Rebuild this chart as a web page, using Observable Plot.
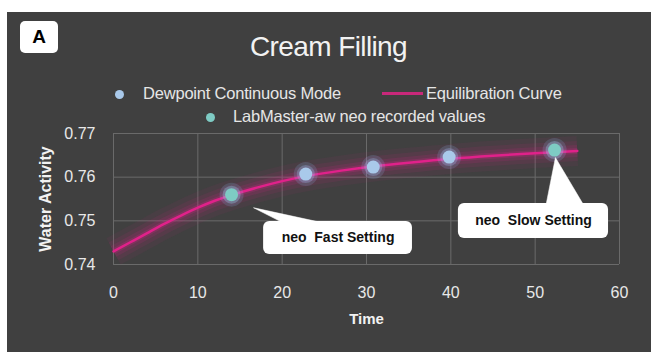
<!DOCTYPE html>
<html>
<head>
<meta charset="utf-8">
<script src="https://cdn.jsdelivr.net/npm/d3@7"></script>
<script src="https://cdn.jsdelivr.net/npm/@observablehq/plot@0.6"></script>
<style>
  html, body { margin: 0; padding: 0; background: #ffffff; }
  #wrap { position: relative; width: 657px; height: 363px; overflow: hidden; font-family: "Liberation Sans", Arial, sans-serif; }
  #panel { position: absolute; left: 7px; top: 12px; width: 644px; height: 340px; background: #404040; }
  #chart { position: absolute; left: 0; top: 0; }
  #badge { position: absolute; left: 20px; top: 21px; width: 38px; height: 32px; background: #ffffff; border-radius: 5px;
           font: bold 19px "Liberation Sans", Arial, sans-serif; color: #000; text-align: center; line-height: 32px; }
  #title { position: absolute; left: 0; width: 657px; top: 31px; text-align: center; color: #f2f2f2;
           font: 28px "Liberation Sans", Arial, sans-serif; letter-spacing: -0.6px; line-height: 32px; }
  .leg { position: absolute; color: #e6e6e6; font: 16.5px "Liberation Sans", Arial, sans-serif; white-space: nowrap; line-height: 20px; letter-spacing: -0.2px; }
  .dot { position: absolute; width: 9px; height: 9px; border-radius: 50%; }
  .swatch { position: absolute; height: 3px; background: #c8287a; }
</style>
</head>
<body>
<div id="wrap">
  <div id="panel"></div>
  <div id="badge">A</div>
  <div id="title">Cream Filling</div>
  <div id="legend"></div>
  <div id="chart"></div>
</div>
<script>
// ---- data ----
const curveTimes  = [0, 2, 4, 6, 8, 10, 12, 14, 17, 20, 23, 27, 31, 35, 40, 45, 50, 55];
const curveValues = [0.7430, 0.7451, 0.7472, 0.7493, 0.7512, 0.7530, 0.7546, 0.7559, 0.7576, 0.7591, 0.7603, 0.7615, 0.7625, 0.7633, 0.7642, 0.7649, 0.7655, 0.7660];
const dewpointTimes  = [22.8, 30.8, 39.8];
const dewpointValues = [0.7607, 0.7623, 0.7646];
const labmasterTimes  = [14.0, 52.3];
const labmasterValues = [0.7560, 0.7662];
const xTicks = [0, 10, 20, 30, 40, 50, 60];
const yTicks = [0.74, 0.75, 0.76, 0.77];
const seriesNames = ["Dewpoint Continuous Mode", "Equilibration Curve", "LabMaster-aw neo recorded values"];
const calloutLabels = ["neo  Fast Setting", "neo  Slow Setting"];
// callout boxes in data units: [x1, x2, yBottom, yTop], tail [tipX, tipY, baseX1, baseX2]
const calloutBoxes = [[17.8, 35.45, 0.74229, 0.74985], [40.9, 58.7, 0.74595, 0.75397]];
const calloutTails = [[16.6, 0.7530, 20.0, 24.6], [52.4, 0.7645, 51.3, 55.7]];

// ---- colours ----
const curveColor = "#e0218a";
const dewColor = "#a9c9ea";
const labColor = "#7ecbc4";

const curve = curveTimes.map((t, i) => ({t, v: curveValues[i]}));
const dew = dewpointTimes.map((t, i) => ({t, v: dewpointValues[i]}));
const lab = labmasterTimes.map((t, i) => ({t, v: labmasterValues[i]}));
const boxes = calloutBoxes.map((b, i) => ({x1: b[0], x2: b[1], y1: b[2], y2: b[3], label: calloutLabels[i], cx: (b[0] + b[1]) / 2, cy: (b[2] + b[3]) / 2}));
const tails = calloutTails.flatMap((t, i) => {
  const top = calloutBoxes[i][3];
  return [{id: i, x: t[2], y: top - 0.0002}, {id: i, x: t[0], y: t[1]}, {id: i, x: t[3], y: top - 0.0002}];
});

const glowLayers = [[30, 0.06], [20, 0.09], [12, 0.13], [6, 0.2]];
const plot = Plot.plot({
  width: 657,
  height: 363,
  marginLeft: 113,
  marginRight: 38,
  marginTop: 133,
  marginBottom: 99,
  style: {background: "transparent", color: "#e8e8e8", fontFamily: "'Liberation Sans', Arial, sans-serif", fontSize: "16px"},
  x: {domain: [0, 60], ticks: xTicks, label: null, tickSize: 0, tickPadding: 22},
  y: {domain: [0.74, 0.77], ticks: yTicks, tickFormat: d3.format(".2f"), label: null, tickSize: 0, tickPadding: 18},
  marks: [
    Plot.gridX(xTicks, {stroke: "#6a6a6a", strokeOpacity: 1, strokeWidth: 1}),
    Plot.gridY(yTicks, {stroke: "#6a6a6a", strokeOpacity: 1, strokeWidth: 1}),
    ...glowLayers.map(([w, o]) => Plot.line(curve, {x: "t", y: "v", curve: "natural", stroke: curveColor, strokeWidth: w, strokeOpacity: o, strokeLinecap: "butt"})),
    Plot.line(curve, {x: "t", y: "v", curve: "natural", stroke: curveColor, strokeWidth: 2.5}),
    Plot.dot(dew, {x: "t", y: "v", r: 12, fill: "#8fb6f0", fillOpacity: 0.18}),
    Plot.dot(dew, {x: "t", y: "v", r: 9, fill: "#9cc0f0", fillOpacity: 0.3}),
    Plot.dot(dew, {x: "t", y: "v", r: 6.5, fill: dewColor}),
    Plot.dot(lab, {x: "t", y: "v", r: 12, fill: "#8fb6f0", fillOpacity: 0.18}),
    Plot.dot(lab, {x: "t", y: "v", r: 9, fill: "#9cc8e8", fillOpacity: 0.35}),
    Plot.dot(lab, {x: "t", y: "v", r: 6.5, fill: labColor}),
    Plot.line(tails, {x: "x", y: "y", z: "id", fill: "white", stroke: "white", strokeWidth: 0.5, curve: "linear-closed"}),
    Plot.rect(boxes, {x1: "x1", x2: "x2", y1: "y1", y2: "y2", fill: "white", rx: 6}),
    Plot.text(boxes, {x: "cx", y: "cy", text: "label", fill: "#111", fontWeight: "bold", fontSize: 14, fontFamily: "'Liberation Sans', Arial, sans-serif"}),
    Plot.axisX({ticks: xTicks, tickSize: 0, tickPadding: 22, fill: "#e8e8e8", label: null}),
    Plot.axisY({ticks: yTicks, tickSize: 0, tickPadding: 18, tickFormat: d3.format(".2f"), fill: "#e8e8e8", label: null}),
    Plot.text(["Time"], {frameAnchor: "bottom", dy: 59, text: d => d, fill: "#f2f2f2", fontWeight: "bold", fontSize: 15}),
    Plot.text(["Water Activity"], {frameAnchor: "left", dx: -68, textAnchor: "middle", lineAnchor: "middle", rotate: -90, text: d => d, fill: "#f2f2f2", fontWeight: "bold", fontSize: 16})
  ]
});
document.getElementById("chart").append(plot);

// ---- legend (HTML) ----
const legend = document.getElementById("legend");
function addDot(x, y, color) {
  const d = document.createElement("div");
  d.className = "dot"; d.style.left = (x - 4.5) + "px"; d.style.top = (y - 4.5) + "px"; d.style.background = color;
  legend.append(d);
}
function addText(x, y, s) {
  const t = document.createElement("div");
  t.className = "leg"; t.style.left = x + "px"; t.style.top = (y - 10) + "px"; t.textContent = s;
  legend.append(t);
}
addDot(119, 94, dewColor); addText(143, 93, seriesNames[0]);
const sw = document.createElement("div"); sw.className = "swatch"; sw.style.left = "382px"; sw.style.top = "92px"; sw.style.width = "41px"; legend.append(sw);
addText(426, 93, seriesNames[1]);
addDot(210, 117, labColor); addText(233, 116, seriesNames[2]);
</script>
</body>
</html>
